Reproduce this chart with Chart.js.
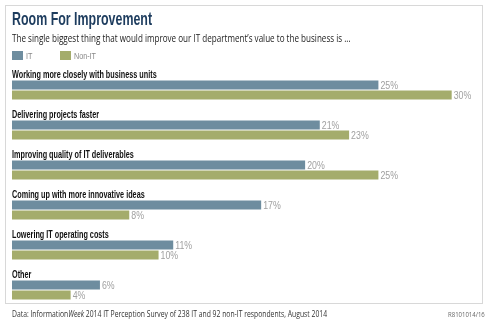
<!DOCTYPE html>
<html>
<head>
<meta charset="utf-8">
<script src="https://cdn.jsdelivr.net/npm/chart.js@4"></script>
<style>
    body { margin: 0; background: #fff; }
    #wrap { position: relative; width: 489px; height: 326px; overflow: hidden; }
    #frame { position: absolute; left: 5px; top: 5px; width: 476px; height: 297px; border: 1px solid #d8d8d8; }
    #chart { position: absolute; left: 0; top: 0; }
    .txt { position: absolute; white-space: nowrap; transform-origin: 0 0; }
    #title { left: 12px; top: 9px; font: bold 18px "Liberation Sans", sans-serif; color: #1d3c5e; transform: scaleX(0.69); }
    #subtitle { left: 12px; top: 31px; font: 10.5px "Open Sans", sans-serif; color: #222; transform: scaleX(0.77); }
    #legend { left: 12px; top: 51px; font: 9px "Liberation Sans", sans-serif; color: #888; }
    #legend span.sw { display: inline-block; width: 11px; height: 9px; vertical-align: -1px; margin-right: 3px; }
    #legend span.item { display: inline-block; margin-right: 26px; }
    #legend span.lab { display: inline-block; transform: scaleX(0.8); transform-origin: 0 0; }
    #source { left: 12px; top: 308px; font: 8.5px "Open Sans", sans-serif; color: #333; transform: scaleX(0.8); }
    #code { left: 448px; top: 309px; font: 7.5px "Open Sans", sans-serif; color: #666; transform: scaleX(0.8); }
</style>
</head>
<body>
<div id="wrap">
    <div id="frame"></div>
    <canvas id="chart" width="489" height="326"></canvas>
    <div class="txt" id="title">Room For Improvement</div>
    <div class="txt" id="subtitle">The single biggest thing that would improve our IT department’s value to the business is ...</div>
    <div class="txt" id="legend"><span class="item"><span class="sw" style="background:#6e8d9f"></span><span class="lab">IT</span></span><span class="item"><span class="sw" style="background:#a4ac6c"></span><span class="lab">Non-IT</span></span></div>
    <div class="txt" id="source">Data: Information<i>Week</i> 2014 IT Perception Survey of 238 IT and 92 non-IT respondents, August 2014</div>
    <div class="txt" id="code">R8101014/16</div>
</div>
<script>
    "use strict";

    var categories = [
        "Working more closely with business units",
        "Delivering projects faster",
        "Improving quality of IT deliverables",
        "Coming up with more innovative ideas",
        "Lowering IT operating costs",
        "Other"
    ];
    var itValues = [25, 21, 20, 17, 11, 6];
    var nonItValues = [30, 23, 25, 8, 10, 4];

    var font = '"Liberation Sans", sans-serif';

    // helper: draw text squeezed horizontally (the original uses a condensed face)
    function narrowText(ctx, text, x, y, sx) {
        ctx.save();
        ctx.translate(x, y);
        ctx.scale(sx, 1);
        ctx.fillText(text, 0, 0);
        ctx.restore();
    }

    // category names above each group, value labels after each bar
    var labelPlugin = {
        id: "labels",
        afterDatasetsDraw: function (chart) {
            var ctx = chart.ctx;
            var yScale = chart.scales.y;
            ctx.save();
            ctx.textBaseline = "middle";
            ctx.textAlign = "left";
            ctx.font = "bold 11px " + font;
            ctx.fillStyle = "#111";
            categories.forEach(function (name, i) {
                var top = yScale.getPixelForValue(i) - 20;
                narrowText(ctx, name, chart.chartArea.left, top + 5, 0.66);
            });
            ctx.font = "11px " + font;
            ctx.fillStyle = "#a0a0a0";
            chart.data.datasets.forEach(function (ds, d) {
                chart.getDatasetMeta(d).data.forEach(function (bar, i) {
                    narrowText(ctx, ds.data[i] + "%", bar.x + 2, bar.y + 1, 0.8);
                });
            });
            ctx.restore();
        }
    };

    new Chart(document.getElementById("chart"), {
        type: "bar",
        data: {
            labels: categories,
            datasets: [
                { label: "IT", data: itValues, backgroundColor: "#6e8d9f" },
                { label: "Non-IT", data: nonItValues, backgroundColor: "#a4ac6c" }
            ]
        },
        options: {
            indexAxis: "y",
            responsive: false,
            animation: false,
            categoryPercentage: 0.5,
            barPercentage: 0.92,
            layout: { padding: { left: 12, right: 8, top: 70, bottom: 16 } },
            scales: {
                x: { display: false, min: 0, max: 32 },
                y: { display: false }
            },
            plugins: {
                legend: { display: false },
                tooltip: { enabled: false }
            }
        },
        plugins: [labelPlugin]
    });
</script>
</body>
</html>
